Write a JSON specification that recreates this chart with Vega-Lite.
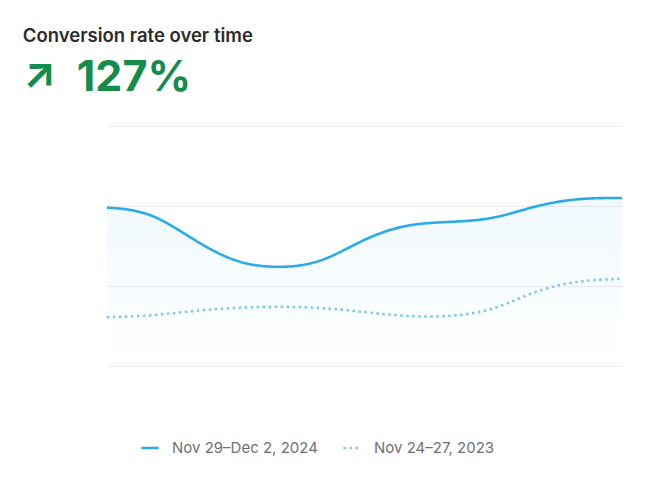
{
  "$schema": "https://vega.github.io/schema/vega-lite/v6.json",
  "width": 515,
  "height": 240,
  "padding": {"left": 22, "top": 26, "right": 26, "bottom": 0},
  "background": "white",
  "config": {"view": {"stroke": null}, "font": "Inter"},
  "title": {
    "text": "Conversion rate over time",
    "subtitle": "↗\u00a0\u00a0127%",
    "anchor": "start",
    "dx": -79,
    "font": "Inter",
    "fontSize": 18.5,
    "fontWeight": 600,
    "color": "#2b2b2b",
    "subtitleFont": "Inter",
    "subtitleFontSize": 43,
    "subtitleFontWeight": 700,
    "subtitleColor": "#168c4c",
    "subtitlePadding": 12,
    "offset": 26
  },
  "data": {
    "values": [
      {"h": 0, "v": 1.98, "series": "Nov 29–Dec 2, 2024"},
      {"h": 6, "v": 1.94, "series": "Nov 29–Dec 2, 2024"},
      {"h": 12, "v": 1.58, "series": "Nov 29–Dec 2, 2024"},
      {"h": 18, "v": 1.28, "series": "Nov 29–Dec 2, 2024"},
      {"h": 24, "v": 1.22, "series": "Nov 29–Dec 2, 2024"},
      {"h": 30, "v": 1.28, "series": "Nov 29–Dec 2, 2024"},
      {"h": 36, "v": 1.6, "series": "Nov 29–Dec 2, 2024"},
      {"h": 42, "v": 1.78, "series": "Nov 29–Dec 2, 2024"},
      {"h": 48, "v": 1.8, "series": "Nov 29–Dec 2, 2024"},
      {"h": 54, "v": 1.83, "series": "Nov 29–Dec 2, 2024"},
      {"h": 60, "v": 2.01, "series": "Nov 29–Dec 2, 2024"},
      {"h": 66, "v": 2.1, "series": "Nov 29–Dec 2, 2024"},
      {"h": 72, "v": 2.1, "series": "Nov 29–Dec 2, 2024"},
      {"h": 0, "v": 0.61, "series": "Nov 24–27, 2023"},
      {"h": 6, "v": 0.625, "series": "Nov 24–27, 2023"},
      {"h": 12, "v": 0.69, "series": "Nov 24–27, 2023"},
      {"h": 18, "v": 0.73, "series": "Nov 24–27, 2023"},
      {"h": 24, "v": 0.745, "series": "Nov 24–27, 2023"},
      {"h": 30, "v": 0.73, "series": "Nov 24–27, 2023"},
      {"h": 36, "v": 0.675, "series": "Nov 24–27, 2023"},
      {"h": 42, "v": 0.615, "series": "Nov 24–27, 2023"},
      {"h": 48, "v": 0.615, "series": "Nov 24–27, 2023"},
      {"h": 54, "v": 0.69, "series": "Nov 24–27, 2023"},
      {"h": 60, "v": 0.95, "series": "Nov 24–27, 2023"},
      {"h": 66, "v": 1.07, "series": "Nov 24–27, 2023"},
      {"h": 72, "v": 1.09, "series": "Nov 24–27, 2023"}
    ]
  },
  "encoding": {
    "x": {"field": "h", "type": "quantitative", "scale": {"domain": [0, 72], "nice": false}, "axis": null},
    "y": {
      "field": "v",
      "type": "quantitative",
      "scale": {"domain": [0, 3], "nice": false},
      "axis": {"values": [0, 1, 2, 3], "labels": false, "ticks": false, "domain": false, "title": null, "gridColor": "#ececec", "gridWidth": 1.2}
    }
  },
  "layer": [
    {
      "transform": [{"filter": "datum.series === 'Nov 29–Dec 2, 2024'"}],
      "mark": {
        "type": "area",
        "interpolate": "basis",
        "color": {
          "gradient": "linear",
          "x1": 0, "y1": 0, "x2": 0, "y2": 1,
          "stops": [
            {"offset": 0, "color": "rgba(42,170,233,0.07)"},
            {"offset": 1, "color": "rgba(42,170,233,0.0)"}
          ]
        }
      }
    },
    {
      "mark": {"type": "line", "interpolate": "basis", "strokeWidth": 2.6},
      "encoding": {
        "color": {
          "field": "series",
          "type": "nominal",
          "scale": {"domain": ["Nov 29–Dec 2, 2024", "Nov 24–27, 2023"], "range": ["#2aaae9", "#7ec8ee"]},
          "legend": {
            "title": null,
            "orient": "none",
            "legendX": 33,
            "legendY": 312,
            "direction": "horizontal",
            "symbolType": "stroke",
            "symbolStrokeWidth": 2.6,
            "symbolSize": 300,
            "labelFont": "Inter",
            "labelFontSize": 15,
            "labelColor": "#6f6f73",
            "labelOffset": 12,
            "columnPadding": 20
          }
        },
        "strokeDash": {
          "field": "series",
          "type": "nominal",
          "scale": {"domain": ["Nov 29–Dec 2, 2024", "Nov 24–27, 2023"], "range": [[1, 0], [2.5, 3.5]]},
          "legend": {
            "title": null,
            "orient": "none",
            "legendX": 33,
            "legendY": 312,
            "direction": "horizontal",
            "symbolType": "stroke",
            "symbolStrokeWidth": 2.6,
            "symbolSize": 300,
            "labelFont": "Inter",
            "labelFontSize": 15,
            "labelColor": "#6f6f73",
            "labelOffset": 12,
            "columnPadding": 20
          }
        }
      }
    }
  ]
}
